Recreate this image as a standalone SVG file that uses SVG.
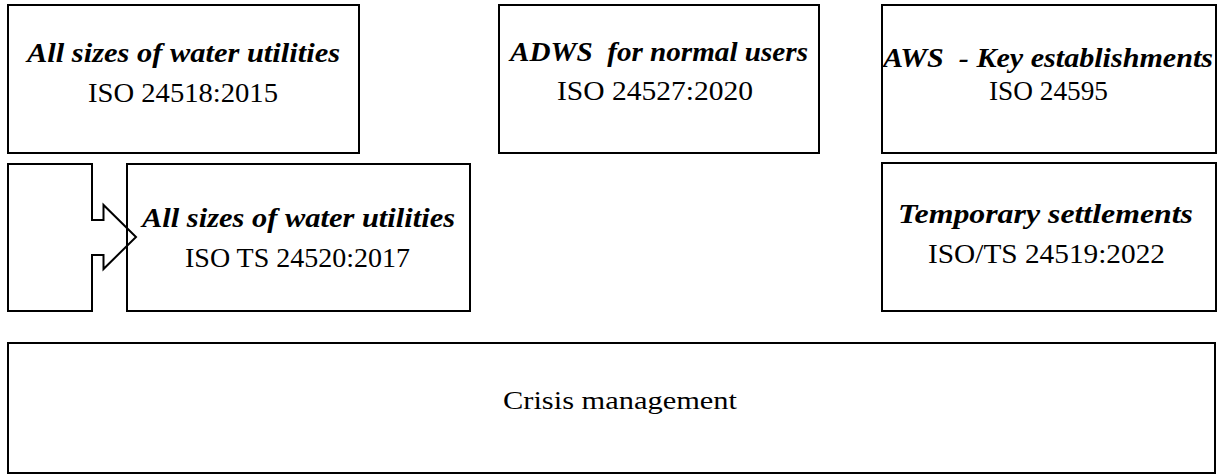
<svg xmlns="http://www.w3.org/2000/svg" width="1220" height="474" viewBox="0 0 1220 474">
<style>
.box{fill:#fff;stroke:#000;stroke-width:2}
.arr{fill:none;stroke:#000;stroke-width:2;stroke-linejoin:miter}
.t{font-family:"Liberation Serif","Times New Roman",serif;fill:#000;text-anchor:middle}
.bi{font-size:28px;font-weight:bold;font-style:italic}
.r{font-size:28px}
.c{font-size:25px}
</style>
<rect x="0" y="0" width="1220" height="474" fill="#fff"/>
<g id="node-iso24518">
<rect class="box" x="8" y="5" width="351" height="148"/>
<text class="t bi" x="183.5" y="62" textLength="313" lengthAdjust="spacingAndGlyphs">All sizes of water utilities</text>
<text class="t r" x="183" y="102" textLength="190" lengthAdjust="spacingAndGlyphs">ISO 24518:2015</text>
</g>
<g id="node-iso24527">
<rect class="box" x="499" y="5" width="320" height="148"/>
<text class="t bi" x="659" y="61" textLength="298" lengthAdjust="spacingAndGlyphs" xml:space="preserve">ADWS  for normal users</text>
<text class="t r" x="655" y="100" textLength="196" lengthAdjust="spacingAndGlyphs">ISO 24527:2020</text>
</g>
<g id="node-iso24595">
<rect class="box" x="882" y="5" width="334" height="148"/>
<text class="t bi" x="1048" y="67" textLength="330" lengthAdjust="spacingAndGlyphs" xml:space="preserve">AWS  - Key establishments</text>
<text class="t r" x="1048.5" y="100" textLength="119" lengthAdjust="spacingAndGlyphs">ISO 24595</text>
</g>
<g id="node-iso24519">
<rect class="box" x="882" y="163" width="334" height="148"/>
<text class="t bi" x="1045.5" y="223" textLength="295" lengthAdjust="spacingAndGlyphs">Temporary settlements</text>
<text class="t r" x="1046.5" y="263" textLength="237" lengthAdjust="spacingAndGlyphs">ISO/TS 24519:2022</text>
</g>
<g id="node-iso24520">
<rect class="box" x="127" y="164" width="343" height="147"/>
<text class="t bi" x="298.5" y="227" textLength="313" lengthAdjust="spacingAndGlyphs">All sizes of water utilities</text>
<text class="t r" x="297.5" y="267" textLength="225" lengthAdjust="spacingAndGlyphs">ISO TS 24520:2017</text>
</g>
<g id="node-crisis">
<rect class="box" x="8" y="343" width="1207" height="130"/>
<text class="t c" x="620" y="409" textLength="234" lengthAdjust="spacingAndGlyphs">Crisis management</text>
</g>
<g id="connectors">
<polygon class="arr" points="8,164 92,164 92,220 103.5,220 103.5,205 136,237 103.5,269 103.5,255 92,255 92,311 8,311"/>
</g>
</svg>
